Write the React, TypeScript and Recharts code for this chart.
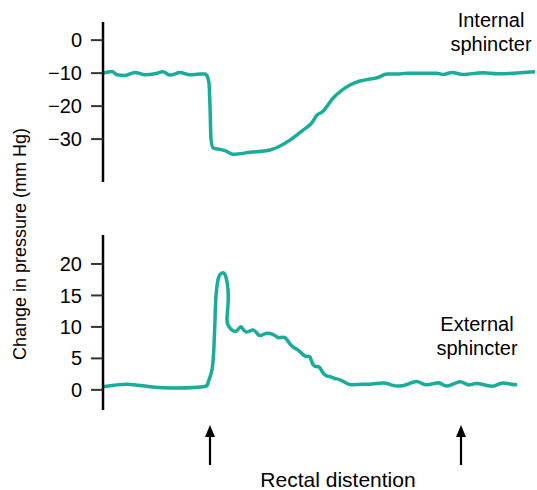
import React from "react"
import { LineChart, Line, XAxis, YAxis } from "recharts"

// time axis is in arbitrary units (0..432)
const internalTime = [
  0, 9, 14, 22, 32, 42, 52, 60, 67, 77, 87, 97, 102, 104, 106, 107, 108, 110, 115, 122, 130, 147, 167,
  187, 200, 209, 214, 219, 230, 247, 257, 267, 274, 284, 294, 304, 334, 340, 349, 360, 380, 394, 432,
]
const internalPressure = [
  -10, -9.5, -10.5, -10.7, -9.8, -10.5, -10.2, -9.6, -10.6, -9.8, -10.5, -10.3, -10.3, -10.8, -13, -20, -30,
  -32.6, -33, -33.5, -34.6, -34, -33.3, -30.3, -27.3, -25, -22.7, -21.8, -17.6, -13.6, -12.4, -11.8, -11.4,
  -10.3, -10.3, -10, -10, -10.4, -9.8, -10.4, -9.9, -10.2, -9.6,
]

const externalTime = [
  0, 24, 47, 74, 100, 105, 109, 111, 112, 113, 115, 117, 120, 123, 125, 125, 124, 125, 129, 134, 138, 143,
  150, 155, 159, 164, 170, 174, 177, 182, 186, 190, 196, 200, 204, 207, 210, 214, 217, 220, 224, 227, 232,
  237, 244, 249, 260, 267, 280, 288, 297, 305, 312, 318, 324, 334, 339, 344, 350, 357, 362, 367, 375, 387,
  394, 400, 408, 414,
]
const externalPressure = [
  0.5, 0.9, 0.5, 0.3, 0.5, 1.1, 3.2, 7.1, 11.1, 15, 17.5, 18.3, 18.6, 17.9, 15.9, 13.5, 11.4, 10.3, 9.5, 9.4,
  10, 9.2, 9.5, 8.8, 8.7, 9, 8.8, 8.4, 8.3, 8.3, 7.5, 6.8, 6.2, 5.6, 5.3, 5.2, 4, 3.7, 3.5, 2.7, 2.2, 2.1,
  1.8, 1.6, 1.0, 0.8, 0.9, 0.9, 1.1, 0.8, 0.6, 0.9, 1.3, 1.1, 0.8, 1.1, 0.9, 0.6, 0.9, 1.3, 1.0, 0.8, 1.0,
  0.6, 0.8, 1.1, 0.9, 0.8,
]

const internalTicks = [0, -10, -20, -30]
const externalTicks = [0, 5, 10, 15, 20]
const distentionTimes = [107, 358]

const internalData = internalTime.map((t, i) => ({ t, p: internalPressure[i] }))
const externalData = externalTime.map((t, i) => ({ t, p: externalPressure[i] }))

const FONT = "'Liberation Sans', Arial, Helvetica, sans-serif"
const TEAL = "#19ad99"

const tickStyle = { fill: "#000", fontSize: 20, fontFamily: FONT }

function Arrow(props: any) {
  const { x, y } = props
  return (
    <g>
      <line x1={x} y1={y + 17} x2={x} y2={y + 47} stroke="#000" strokeWidth={2.2} />
      <path d={`M${x - 5},${y + 19} L${x},${y + 7} L${x + 5},${y + 19} Z`} fill="#000" />
    </g>
  )
}

const minusFmt = (v: number) => (v < 0 ? `\u2212${Math.abs(v)}` : `${v}`)

export default function App() {
  return (
    <div style={{ position: "absolute", left: 0, top: 0, width: 537, height: 490, background: "#fff" }}>
      <div style={{ position: "absolute", left: 0, top: 0 }}>
        <LineChart width={537} height={200} data={internalData} margin={{ top: 22, right: 2, bottom: 18, left: 0 }}>
          <XAxis type="number" dataKey="t" domain={[0, 432]} hide />
          <YAxis
            width={103}
            domain={[-43, 5.5]}
            ticks={internalTicks}
            allowDataOverflow
            tickFormatter={minusFmt}
            axisLine={{ stroke: "#000", strokeWidth: 2.5 }}
            tickLine={{ stroke: "#333", strokeWidth: 2 }}
            tickSize={12}
            tickMargin={9}
            tick={tickStyle}
          />
          <Line
            type="monotone"
            dataKey="p"
            stroke={TEAL}
            strokeWidth={3.5}
            strokeLinejoin="round"
            dot={false}
            isAnimationActive={false}
          />
        </LineChart>
      </div>
      <div style={{ position: "absolute", left: 0, top: 200 }}>
        <LineChart width={537} height={290} data={externalData} margin={{ top: 35, right: 2, bottom: 0, left: 0 }}>
          <XAxis
            type="number"
            dataKey="t"
            domain={[0, 432]}
            ticks={distentionTimes}
            height={80}
            axisLine={false}
            tickLine={false}
            tick={<Arrow />}
            label={{
              value: "Rectal distention",
              position: "insideBottom",
              offset: 3,
              dx: 19,
              style: { fill: "#000", fontSize: 21, fontFamily: FONT },
            }}
          />
          <YAxis
            width={103}
            domain={[-3.2, 24.6]}
            ticks={externalTicks}
            allowDataOverflow
            axisLine={{ stroke: "#000", strokeWidth: 2.5 }}
            tickLine={{ stroke: "#333", strokeWidth: 2 }}
            tickSize={12}
            tickMargin={9}
            tick={tickStyle}
          />
          <Line
            type="natural"
            dataKey="p"
            stroke={TEAL}
            strokeWidth={3.5}
            strokeLinejoin="round"
            dot={false}
            isAnimationActive={false}
          />
        </LineChart>
      </div>
      <div
        style={{
          position: "absolute",
          left: 20,
          top: 244,
          transform: "translate(-50%, -50%) rotate(-90deg)",
          whiteSpace: "nowrap",
          fontFamily: FONT,
          fontSize: 18,
        }}
      >
        Change in pressure (mm Hg)
      </div>
      <div
        style={{
          position: "absolute",
          left: 441,
          top: 8,
          width: 100,
          textAlign: "center",
          fontFamily: FONT,
          fontSize: 20,
          lineHeight: "24px",
        }}
      >
        Internal
        <br />
        sphincter
      </div>
      <div
        style={{
          position: "absolute",
          left: 427,
          top: 312,
          width: 100,
          textAlign: "center",
          fontFamily: FONT,
          fontSize: 20,
          lineHeight: "24px",
        }}
      >
        External
        <br />
        sphincter
      </div>
    </div>
  )
}
